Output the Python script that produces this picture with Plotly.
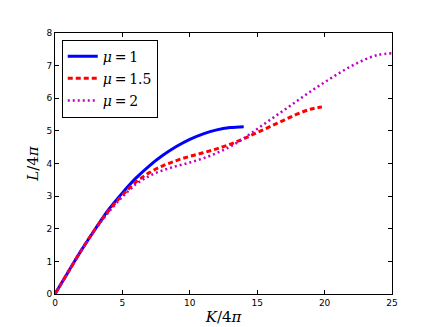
import plotly.graph_objects as go

# K/4pi and L/4pi values
k_mu1 = [0, 1, 2, 3, 4, 5, 6, 7, 8, 9, 10, 11, 12, 13, 14]
l_mu1 = [0, 0.69, 1.37, 2.00, 2.60, 3.10, 3.55, 3.93, 4.25, 4.52, 4.74, 4.91, 5.03, 5.10, 5.13]

k_mu15 = [0, 1, 2, 3, 4, 5, 6, 7, 8, 9, 10, 11, 12, 13, 14, 15, 16, 17, 18, 19, 19.8]
l_mu15 = [0, 0.69, 1.37, 2.00, 2.56, 3.03, 3.43, 3.72, 3.93, 4.09, 4.22, 4.33, 4.45, 4.59,
          4.76, 4.95, 5.14, 5.33, 5.52, 5.67, 5.73]

k_mu2 = [0, 1, 2, 3, 4, 5, 6, 7, 8, 9, 10, 11, 12, 13, 14, 15, 16, 17, 18, 19, 20, 21, 22,
         23, 24, 25]
l_mu2 = [0, 0.69, 1.36, 1.98, 2.52, 2.98, 3.36, 3.62, 3.79, 3.92, 4.03, 4.16, 4.32, 4.52,
         4.77, 5.06, 5.35, 5.64, 5.93, 6.22, 6.49, 6.75, 6.99, 7.19, 7.33, 7.38]

names = ["<i>μ</i>\u2009=\u20091", "<i>μ</i>\u2009=\u20091.5", "<i>μ</i>\u2009=\u20092"]

fig = go.Figure()
fig.add_trace(go.Scatter(x=k_mu1, y=l_mu1, mode="lines", name=names[0], legendgroup="a",
                         line=dict(color="#0000ff", width=3, shape="spline")))
fig.add_trace(go.Scatter(x=k_mu15, y=l_mu15, mode="lines", name=names[1], legendgroup="b",
                         line=dict(color="#ff0000", width=3, dash="5px,3px", shape="spline")))
fig.add_trace(go.Scatter(x=k_mu2, y=l_mu2, mode="lines", name=names[2], legendgroup="c",
                         line=dict(color="#bf00bf", width=2.5, dash="2px,3px", shape="spline")))

axis_style = dict(showgrid=False, zeroline=False, showline=True, linecolor="black",
                  linewidth=1, mirror="ticks", ticks="inside", ticklen=4, automargin=False,
                  tickcolor="black", tickfont=dict(family="DejaVu Sans", size=9, color="black"))

fig.update_xaxes(range=[0, 25], dtick=5, title=dict(text="<i>K</i>/4<i>π</i>", standoff=4,
                 font=dict(family="DejaVu Serif", size=15, color="black")), **axis_style)
fig.update_yaxes(range=[0, 8], dtick=1, title=dict(text="<i>L</i>/4<i>π</i>", standoff=4,
                 font=dict(family="DejaVu Serif", size=15, color="black")), **axis_style)

# page body adds an 8px offset, so the figure is a bit smaller than the window
fig.update_layout(
    width=428, height=319,
    margin=dict(l=47, r=44, t=25, b=33),
    plot_bgcolor="white", paper_bgcolor="white",
    legend=dict(x=0.02, y=0.975, xanchor="left", yanchor="top",
                bordercolor="black", borderwidth=1, bgcolor="white",
                font=dict(family="DejaVu Serif", size=14, color="black"),
                tracegroupgap=1),
)

fig.write_html("out.html")
